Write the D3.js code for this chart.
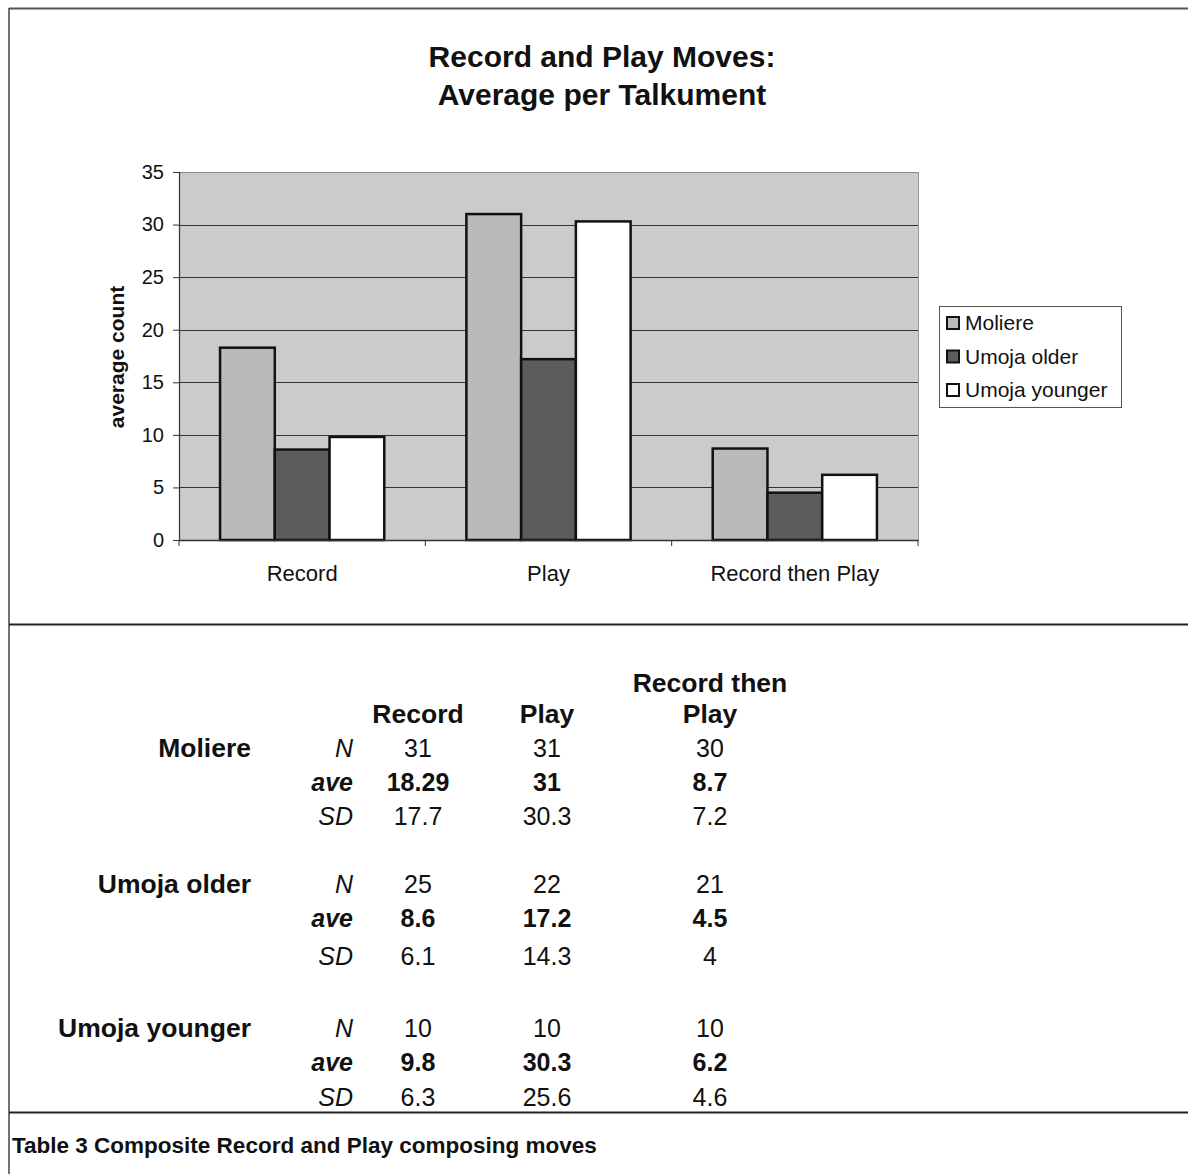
<!DOCTYPE html>
<html><head><meta charset="utf-8">
<script src="https://cdn.jsdelivr.net/npm/d3@7"></script>
<style>
html,body{margin:0;padding:0;background:#fff;}
svg{display:block;font-family:"Liberation Sans",Arial,sans-serif;}
</style></head>
<body>
<svg id="c" width="1188" height="1174"></svg>
<script>
const categories = ["Record", "Play", "Record then Play"];
const seriesNames = ["Moliere", "Umoja older", "Umoja younger"];
const moliereAve = [18.29, 31, 8.7];
const olderAve = [8.6, 17.2, 4.5];
const youngerAve = [9.8, 30.3, 6.2];
const yTicks = [0, 5, 10, 15, 20, 25, 30, 35];
const chartTitle = ["Record and Play Moves:", "Average per Talkument"];
const yLabel = "average count";

const moliereN = [31, 31, 30], moliereSD = [17.7, 30.3, 7.2];
const olderN = [25, 22, 21], olderSD = [6.1, 14.3, 4];
const youngerN = [10, 10, 10], youngerSD = [6.3, 25.6, 4.6];
const tableHeaders = [["Record"], ["Play"], ["Record then", "Play"]];
const statLabels = ["N", "ave", "SD"];
const caption = "Table 3 Composite Record and Play composing moves";

const colors = ["#bababa", "#5c5c5c", "#ffffff"];
const seriesValues = [moliereAve, olderAve, youngerAve];

const svg = d3.select("#c");

// frame lines
const ink = "#222";
svg.append("line").attr("x1", 9).attr("x2", 1188).attr("y1", 8.5).attr("y2", 8.5).attr("stroke", "#555").attr("stroke-width", 2);
svg.append("line").attr("x1", 9).attr("x2", 9).attr("y1", 8).attr("y2", 1174).attr("stroke", "#444").attr("stroke-width", 1.5);
svg.append("line").attr("x1", 9).attr("x2", 1188).attr("y1", 624.5).attr("y2", 624.5).attr("stroke", ink).attr("stroke-width", 2);
svg.append("line").attr("x1", 9).attr("x2", 1188).attr("y1", 1112.5).attr("y2", 1112.5).attr("stroke", ink).attr("stroke-width", 2);

// title
svg.append("g").selectAll("text").data(chartTitle).join("text")
  .attr("x", 602).attr("y", (d, i) => 67 + i * 38)
  .attr("text-anchor", "middle").attr("font-weight", "bold").attr("font-size", 30).attr("fill", "#111")
  .text(d => d);

// plot
const L = 179, R = 918, T = 172, B = 540;
const x0 = d3.scaleBand().domain(categories).range([L, R]).paddingInner(0).paddingOuter(0);
const x1 = d3.scaleBand().domain(seriesNames).range([0, x0.bandwidth()]).paddingInner(0).paddingOuter(0.75);
const y = d3.scaleLinear().domain([0, 35]).range([B, T]);

svg.append("rect").attr("x", L).attr("y", T).attr("width", R - L).attr("height", B - T).attr("fill", "#cbcbcb");

// gridlines
svg.append("g").selectAll("line").data(yTicks.filter(t => t > 0)).join("line")
  .attr("x1", L).attr("x2", R).attr("y1", d => Math.round(y(d)) + 0.5).attr("y2", d => Math.round(y(d)) + 0.5)
  .attr("stroke", d => d === 35 ? "#888" : "#333").attr("stroke-width", 1);
svg.append("line").attr("x1", R + 0.5).attr("x2", R + 0.5).attr("y1", T).attr("y2", B).attr("stroke", "#999");

// bars
const groups = svg.append("g").selectAll("g").data(categories).join("g")
  .attr("transform", d => `translate(${x0(d)},0)`);
groups.selectAll("rect").data((c, ci) => seriesNames.map((s, si) => ({ s, si, v: seriesValues[si][ci] }))).join("rect")
  .attr("x", d => x1(d.s)).attr("width", x1.bandwidth())
  .attr("y", d => y(d.v)).attr("height", d => B - y(d.v))
  .attr("fill", d => colors[d.si]).attr("stroke", "#111").attr("stroke-width", 2.5);

// y axis
const yAxis = svg.append("g").attr("transform", `translate(${L},0)`)
  .call(d3.axisLeft(y).tickValues(yTicks).tickSize(6).tickPadding(9));
yAxis.select(".domain").attr("stroke", "#333").attr("stroke-width", 1.2);
yAxis.selectAll(".tick line").attr("stroke", "#333");
yAxis.selectAll("text").attr("font-size", 20).attr("fill", "#111").attr("font-family", "Liberation Sans, Arial, sans-serif");

// x axis
const xAxis = svg.append("g").attr("transform", `translate(0,${B})`)
  .call(d3.axisBottom(x0).tickSize(0).tickPadding(25));
xAxis.select(".domain").attr("stroke", "#333").attr("stroke-width", 1.5);
xAxis.selectAll("text").attr("font-size", 22).attr("fill", "#111").attr("font-family", "Liberation Sans, Arial, sans-serif");
svg.append("g").selectAll("line").data([L, x0("Play"), x0("Record then Play"), R]).join("line")
  .attr("x1", d => d).attr("x2", d => d).attr("y1", B).attr("y2", B + 6).attr("stroke", "#333");

// y label
svg.append("text").attr("transform", `translate(124,357) rotate(-90)`)
  .attr("text-anchor", "middle").attr("font-weight", "bold").attr("font-size", 21).attr("fill", "#111").text(yLabel);

// legend
const lg = svg.append("g").attr("transform", "translate(939,306)");
lg.append("rect").attr("x", 0.5).attr("y", 0.5).attr("width", 182).attr("height", 101).attr("fill", "#fff").attr("stroke", "#555");
const li = lg.selectAll("g").data(seriesNames).join("g").attr("transform", (d, i) => `translate(8,${11 + i * 33.5})`);
li.append("rect").attr("width", 12).attr("height", 12).attr("fill", (d, i) => colors[i]).attr("stroke", "#111").attr("stroke-width", 2);
li.append("text").attr("x", 18).attr("y", 13).attr("font-size", 21).attr("fill", "#111").text(d => d);

// table
const colX = [418, 547, 710];
const tg = svg.append("g").attr("fill", "#111");
tableHeaders.forEach((lines, ci) => {
  lines.forEach((ln, li2) => {
    tg.append("text").attr("x", colX[ci]).attr("y", 723 - (lines.length - 1 - li2) * 31)
      .attr("text-anchor", "middle").attr("font-weight", "bold").attr("font-size", 26.5).text(ln);
  });
});
const groupsT = [
  { name: seriesNames[0], y: 757, rows: [moliereN, moliereAve, moliereSD], gaps: [0, 34, 68] },
  { name: seriesNames[1], y: 893, rows: [olderN, olderAve, olderSD], gaps: [0, 34, 72] },
  { name: seriesNames[2], y: 1037, rows: [youngerN, youngerAve, youngerSD], gaps: [0, 34, 69] }
];
groupsT.forEach(g => {
  tg.append("text").attr("x", 251).attr("y", g.y).attr("text-anchor", "end").attr("font-weight", "bold").attr("font-size", 26.5).text(g.name);
  g.rows.forEach((row, ri) => {
    const yy = g.y + g.gaps[ri];
    const bold = ri === 1;
    tg.append("text").attr("x", 353).attr("y", yy).attr("text-anchor", "end").attr("font-style", "italic")
      .attr("font-weight", bold ? "bold" : "normal").attr("font-size", 25).text(statLabels[ri]);
    row.forEach((v, ci) => {
      tg.append("text").attr("x", colX[ci]).attr("y", yy).attr("text-anchor", "middle")
        .attr("font-weight", bold ? "bold" : "normal").attr("font-size", 25).text(v);
    });
  });
});

// caption
svg.append("text").attr("x", 12).attr("y", 1153).attr("font-weight", "bold").attr("font-size", 22.5)
  .attr("fill", "#111").text(caption);
</script>
</body></html>
